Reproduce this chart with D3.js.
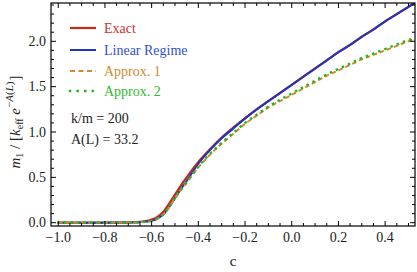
<!DOCTYPE html>
<html><head><meta charset="utf-8">
<script src="https://cdn.jsdelivr.net/npm/d3@7"></script>
<style>
html,body{margin:0;padding:0;background:#fff;}
</style></head>
<body><svg id="c" width="417" height="272"></svg>
<script>
const cValues = [-1.0,-0.95,-0.9,-0.85,-0.8,-0.75,-0.7,-0.65,-0.6,-0.575,-0.55,-0.525,-0.5,-0.475,-0.45,-0.4,-0.35,-0.3,-0.25,-0.2,-0.15,-0.1,-0.05,0.0,0.05,0.1,0.15,0.2,0.25,0.3,0.35,0.4,0.45,0.5,0.53];
const exact   = [0,0,0,0,0,0.001,0.003,0.01,0.035,0.065,0.12,0.21,0.31,0.41,0.50,0.67,0.81,0.94,1.05,1.15,1.25,1.34,1.43,1.52,1.61,1.70,1.79,1.88,1.96,2.05,2.13,2.22,2.30,2.38,2.43];
const linear  = [0,0,0,0,0,0.001,0.002,0.006,0.02,0.045,0.09,0.17,0.27,0.37,0.46,0.65,0.80,0.93,1.04,1.15,1.25,1.34,1.43,1.52,1.61,1.70,1.79,1.88,1.96,2.05,2.13,2.22,2.30,2.38,2.43];
const approx1 = [0,0,0,0,0,0.001,0.002,0.006,0.02,0.045,0.09,0.17,0.27,0.36,0.44,0.61,0.75,0.87,0.98,1.09,1.18,1.27,1.34,1.41,1.48,1.55,1.62,1.68,1.74,1.80,1.85,1.90,1.95,2.00,2.02];
const approx2 = [0,0,0,0,0,0.001,0.002,0.006,0.02,0.047,0.093,0.175,0.275,0.365,0.45,0.62,0.76,0.88,0.99,1.10,1.19,1.28,1.355,1.425,1.495,1.565,1.635,1.695,1.755,1.815,1.865,1.915,1.965,2.015,2.035];
const xTicks = [-1.0,-0.8,-0.6,-0.4,-0.2,0.0,0.2,0.4];
const yTicks = [0.0,0.5,1.0,1.5,2.0];
const seriesNames = ["Exact","Linear Regime","Approx. 1","Approx. 2"];
const colors = ["#c8281c","#1f35c0","#d48a2c","#22b822"];
const textColors = ["#d0302a","#3050d8","#d08a30","#30b830"];

const FONT = "'Liberation Serif','Times New Roman',Times,'DejaVu Serif',serif";
const svg = d3.select("#c").attr("font-family",FONT);
const L=51, R=415, T=3, B=226;
const x = d3.scaleLinear().domain([-1.031,0.528]).range([L,R]);
const y = d3.scaleLinear().domain([0,2.0]).range([222.7,41.3]);

const fmt = d3.format(".1f");
const minus = s => s.replace("-","\u2212");

svg.append("clipPath").attr("id","clip").append("rect").attr("x",L).attr("y",T).attr("width",R-L).attr("height",B-T);

const line = d3.line().x((d,i)=>x(cValues[i])).y(d=>y(d)).curve(d3.curveMonotoneX);
const g = svg.append("g").attr("clip-path","url(#clip)");
const styles = [
  {w:2.2, dash:null},
  {w:2.0, dash:null},
  {w:2.0, dash:"4.5,3"},
  {w:2.4, dash:"0.1,6.5"}
];
[exact,linear,approx1,approx2].forEach((s,i)=>{
  g.append("path").datum(s).attr("d",line).attr("fill","none")
   .attr("stroke",colors[i]).attr("stroke-width",styles[i].w)
   .attr("stroke-dasharray",styles[i].dash)
   .attr("stroke-linecap", i===3?"square":"butt");
});

svg.append("rect").attr("x",L).attr("y",T).attr("width",R-L).attr("height",B-T)
  .attr("fill","none").attr("stroke","#000").attr("stroke-width",1.2);

const xMinor = d3.range(-1.0,0.53,0.05).map(v=>Math.round(v*100)/100);
const tk = svg.append("g").attr("stroke","#000").attr("stroke-width",1);
xMinor.forEach(v=>{
  const major = xTicks.some(t=>Math.abs(t-v)<1e-6);
  const len = major?5:3;
  tk.append("line").attr("x1",x(v)).attr("x2",x(v)).attr("y1",B).attr("y2",B-len);
  tk.append("line").attr("x1",x(v)).attr("x2",x(v)).attr("y1",T).attr("y2",T+len);
});
const yMinor = d3.range(0,2.45,0.1).map(v=>Math.round(v*10)/10);
yMinor.forEach(v=>{
  if (y(v)<T) return;
  const major = yTicks.some(t=>Math.abs(t-v)<1e-6);
  const len = major?5:3;
  tk.append("line").attr("x1",L).attr("x2",L+len).attr("y1",y(v)).attr("y2",y(v));
  tk.append("line").attr("x1",R).attr("x2",R-len).attr("y1",y(v)).attr("y2",y(v));
});

svg.append("g").selectAll("text").data(xTicks).join("text")
  .attr("x",d=>x(d)).attr("y",242).attr("text-anchor","middle")
  .attr("font-size",14).attr("fill","#222").text(d=>minus(fmt(d)));
svg.append("g").selectAll("text").data(yTicks).join("text")
  .attr("x",46).attr("y",d=>y(d)+4.5).attr("text-anchor","end")
  .attr("font-size",14).attr("fill","#222").text(d=>fmt(d));

svg.append("text").attr("x",233).attr("y",266).attr("text-anchor","middle")
  .attr("font-size",15).attr("fill","#222").text("c");
const yl = svg.append("text").attr("transform","translate(20,122) rotate(-90)")
  .attr("text-anchor","middle").attr("font-size",15).attr("fill","#222");
yl.append("tspan").attr("font-style","italic").text("m");
yl.append("tspan").attr("font-size",10).attr("dy",3).text("1");
yl.append("tspan").attr("dy",-3).text(" / [");
yl.append("tspan").attr("font-style","italic").text("k");
yl.append("tspan").attr("font-size",10).attr("dy",3).text("eff");
yl.append("tspan").attr("dy",-3).text(" ");
yl.append("tspan").attr("font-style","italic").text("e");
yl.append("tspan").attr("font-size",11).attr("dy",-7).text("\u2212");
yl.append("tspan").attr("font-size",11).attr("font-style","italic").text("A");
yl.append("tspan").attr("font-size",11).text("(");
yl.append("tspan").attr("font-size",11).attr("font-style","italic").text("L");
yl.append("tspan").attr("font-size",11).text(")");
yl.append("tspan").attr("dy",7).attr("dx",1).text("]");

const legY = [28,50,71,91];
const lg = svg.append("g");
seriesNames.forEach((n,i)=>{
  lg.append("line").attr("x1",70).attr("x2",96).attr("y1",legY[i]).attr("y2",legY[i])
    .attr("stroke",colors[i]).attr("stroke-width",styles[i].w)
    .attr("stroke-dasharray",i===2?"5,3.5":(i===3?"0.1,7.5":null))
    .attr("stroke-linecap", i===3?"square":"butt");
  lg.append("text").attr("x",104).attr("y",legY[i]+4.5).attr("font-size",14)
    .attr("fill",textColors[i]).text(n);
});
svg.append("text").attr("x",71).attr("y",122.5).attr("font-size",14).attr("fill","#222").text("k/m = 200");
svg.append("text").attr("x",71).attr("y",143.5).attr("font-size",14).attr("fill","#222").text("A(L) = 33.2");
</script></body></html>
